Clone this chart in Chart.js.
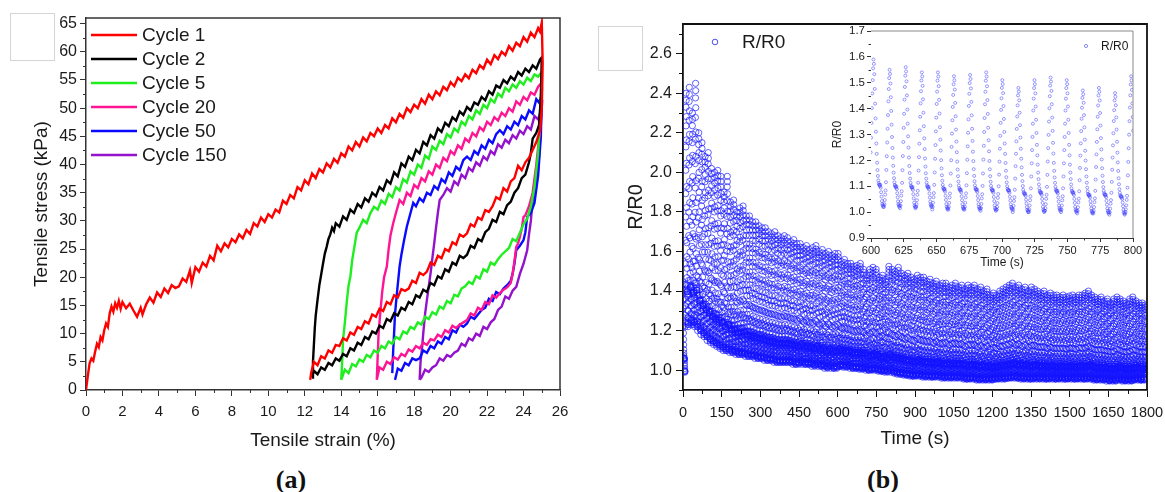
<!DOCTYPE html>
<html><head><meta charset="utf-8">
<script src="https://cdn.jsdelivr.net/npm/chart.js@4.4.1/dist/chart.umd.min.js"></script>
<style>
html,body{margin:0;padding:0;background:#fff;width:1165px;height:492px;overflow:hidden;position:relative;font-family:"Liberation Sans",Arial,sans-serif}
canvas{position:absolute}
#ca{left:0;top:0}
#cb{left:590px;top:0}
#ci{left:820px;top:20px}
.lbl{position:absolute;font-family:"Liberation Serif","Times New Roman",serif;font-weight:bold;font-size:26px;color:#111;transform:translate(-50%,-50%);white-space:nowrap}
.box{position:absolute;border:1px solid #d4d4d4}
</style></head><body>
<div class="box" style="left:10px;top:13px;width:43px;height:46px"></div>
<div class="box" style="left:598px;top:26px;width:43px;height:43px"></div>
<canvas id="ca" width="580" height="460"></canvas>
<canvas id="cb" width="590" height="460"></canvas>
<canvas id="ci" width="330" height="260"></canvas>
<div class="lbl" style="left:291px;top:480px">(a)</div>
<div class="lbl" style="left:883px;top:480px">(b)</div>
<script>
// ================= Panel (a): tensile cycles, [strain %, stress kPa] =================
const cycle1 = [[0,0],[0.1,2.5],[0.2,4.8],[0.3,5.6],[0.4,5.2],[0.5,6.8],[0.6,8.2],[0.7,7.6],[0.8,9.4],[0.9,8.8],[1.0,10.6],[1.1,11.8],[1.2,11.2],[1.3,13.6],[1.4,14.8],[1.5,13.9],[1.6,15.4],[1.7,14.6],[1.8,15.8],[1.9,14.4],[2.0,15.6],[2.2,14.5],[2.4,15.3],[2.6,14.1],[2.8,13.0],[3.0,14.6],[3.1,13.4],[3.3,15.2],[3.5,16.4],[3.7,15.5],[3.9,17.3],[4.1,16.5],[4.3,18.0],[4.5,17.2],[4.7,18.6],[4.9,18.1],[5.1,18.4],[5.3,19.8],[5.5,19.2],[5.7,21.2],[5.8,19.0],[6.0,21.8],[6.2,21.0],[6.4,22.6],[6.6,21.9],[6.8,23.8],[7.0,23.0],[7.2,25.6],[7.4,24.6],[7.6,26.0],[7.8,25.3],[8.0,26.8],[8.2,26.2],[8.4,27.6],[8.6,26.9],[8.8,28.4],[9.0,27.7],[9.2,29.6],[9.4,29.0],[9.6,30.6],[9.8,29.8],[10.0,31.2],[10.2,30.6],[10.4,32.0],[10.6,31.5],[10.8,33.6],[11.0,33.0],[11.2,34.6],[11.4,34.0],[11.6,36.0],[11.8,35.4],[12.0,37.2],[12.2,36.5],[12.4,38.4],[12.6,37.6],[12.8,39.2],[13.0,38.6],[13.2,40.2],[13.4,39.5],[13.6,41.0],[13.8,40.3],[14.0,42.0],[14.2,41.4],[14.4,43.2],[14.6,42.5],[14.8,44.0],[15.0,43.2],[15.2,44.8],[15.4,44.1],[15.6,45.6],[15.8,45.0],[16.0,46.4],[16.2,45.6],[16.4,47.0],[16.6,46.4],[16.8,48.2],[17.0,47.5],[17.2,49.0],[17.4,48.3],[17.6,50.0],[17.8,49.3],[18.0,50.6],[18.2,50.0],[18.4,51.6],[18.6,50.8],[18.8,52.4],[19.0,51.6],[19.2,53.0],[19.4,52.3],[19.6,53.8],[19.8,53.2],[20.0,54.6],[20.2,53.9],[20.4,55.4],[20.6,54.8],[20.8,56.0],[21.0,55.3],[21.2,56.8],[21.4,56.2],[21.6,57.6],[21.8,57.0],[22.0,58.6],[22.2,57.8],[22.4,59.4],[22.6,58.7],[22.8,60.0],[23.0,59.4],[23.2,61.0],[23.4,60.2],[23.6,61.6],[23.8,61.0],[24.0,62.6],[24.2,61.8],[24.4,63.4],[24.6,62.6],[24.8,64.2],[24.9,63.6],[25.0,65.2],
 [25.05,58],[25.0,50],[24.9,46],[24.7,44],[24.5,42.6],[24.3,41.2],[24.1,40.4],[23.9,39.0],[23.7,39.8],[23.5,37.6],[23.3,37.0],[23.1,35.2],[22.9,35.8],[22.7,33.8],[22.5,34.2],[22.3,32.6],[22.1,31.6],[21.9,31.9],[21.7,30.2],[21.5,30.6],[21.3,29.0],[21.1,29.4],[20.9,27.8],[20.7,27.2],[20.5,27.6],[20.3,25.8],[20.1,26.2],[19.9,24.6],[19.7,25.0],[19.5,23.4],[19.3,23.8],[19.1,22.2],[18.9,22.6],[18.7,21.0],[18.5,20.4],[18.3,20.8],[18.1,19.0],[17.9,19.4],[17.7,18.0],[17.5,17.6],[17.3,17.9],[17.1,16.4],[16.9,16.8],[16.7,15.2],[16.5,15.6],[16.3,14.0],[16.1,14.4],[15.9,13.0],[15.7,13.4],[15.5,11.8],[15.3,12.2],[15.1,10.8],[14.9,11.2],[14.7,9.8],[14.5,10.2],[14.3,8.8],[14.1,9.2],[13.9,7.8],[13.7,8.0],[13.5,6.6],[13.3,7.0],[13.1,5.6],[12.9,6.0],[12.7,4.4],[12.5,5.0],[12.35,3.0],[12.3,1.8]];
const cycle2 = [[12.4,2.2],[12.45,5],[12.5,8],[12.55,11],[12.6,13.2],[12.7,16],[12.8,18.6],[12.9,20.5],[13.0,22.4],[13.1,24.2],[13.2,25.4],[13.3,26.8],[13.4,27.6],[13.5,28.8],[13.6,28.2],[13.7,29.6],[13.9,29.0],[14.1,30.8],[14.3,30.2],[14.5,32.0],[14.7,31.4],[14.9,33.0],[15.1,32.4],[15.3,34.0],[15.5,33.4],[15.7,35.0],[15.9,34.4],[16.1,36.0],[16.3,35.4],[16.5,37.2],[16.7,36.6],[16.9,38.6],[17.1,37.9],[17.3,40.2],[17.5,39.6],[17.7,41.4],[17.9,40.8],[18.1,42.6],[18.3,42.0],[18.5,44.0],[18.7,43.4],[18.9,45.2],[19.1,44.6],[19.3,46.4],[19.5,45.8],[19.7,47.4],[19.9,46.8],[20.1,48.4],[20.3,47.8],[20.5,49.4],[20.7,48.8],[20.9,50.2],[21.1,49.6],[21.3,51.0],[21.5,50.6],[21.7,52.0],[21.9,51.4],[22.1,53.0],[22.3,52.4],[22.5,54.0],[22.7,53.6],[22.9,55.0],[23.1,54.4],[23.3,55.6],[23.5,55.0],[23.7,56.4],[23.9,55.8],[24.1,57.0],[24.3,56.4],[24.5,57.6],[24.7,57.0],[24.9,58.6],[25.0,59.0],
 [24.95,52],[24.85,47],[24.7,45.6],[24.5,44.6],[24.4,42.0],[24.3,40.4],[24.1,38.2],[23.9,37.6],[23.7,35.8],[23.5,35.0],[23.3,33.4],[23.1,32.8],[22.9,31.2],[22.7,31.6],[22.5,29.8],[22.3,30.2],[22.1,28.6],[21.9,28.0],[21.7,26.4],[21.5,26.8],[21.3,25.2],[21.1,25.6],[20.9,24.0],[20.7,23.4],[20.5,23.8],[20.3,22.2],[20.1,22.6],[19.9,21.0],[19.7,21.4],[19.5,19.8],[19.3,20.2],[19.1,18.6],[18.9,19.0],[18.7,17.4],[18.5,17.8],[18.3,16.4],[18.1,16.8],[17.9,15.2],[17.7,15.6],[17.5,14.2],[17.3,14.6],[17.1,13.2],[16.9,13.6],[16.7,12.2],[16.5,12.6],[16.3,11.0],[16.1,11.4],[15.9,10.0],[15.7,10.4],[15.5,9.0],[15.3,9.4],[15.1,8.0],[14.9,8.4],[14.7,7.0],[14.5,7.4],[14.3,6.0],[14.1,6.4],[13.9,5.2],[13.7,5.6],[13.5,4.4],[13.3,4.8],[13.1,3.6],[12.9,4.0],[12.7,2.8],[12.5,3.4],[12.4,2.2]];
const cycle5 = [[14.0,1.8],[14.05,5],[14.1,8.9],[14.2,12],[14.3,15.5],[14.4,18.5],[14.5,20.1],[14.6,23],[14.7,25],[14.85,27.9],[15.0,28.8],[15.2,30.2],[15.4,29.6],[15.6,31.4],[15.8,32.5],[16.0,32.0],[16.2,33.6],[16.4,33.0],[16.6,34.8],[16.8,34.2],[17.0,36.0],[17.2,35.4],[17.4,37.4],[17.6,36.8],[17.8,38.8],[18.0,38.2],[18.2,40.0],[18.4,39.4],[18.6,41.6],[18.8,41.0],[19.0,43.2],[19.2,42.6],[19.4,44.2],[19.6,43.6],[19.8,45.4],[20.0,44.8],[20.2,46.4],[20.4,45.8],[20.6,47.6],[20.8,47.0],[21.0,48.6],[21.2,48.0],[21.4,49.6],[21.6,49.0],[21.8,50.6],[22.0,50.0],[22.2,51.6],[22.4,51.0],[22.6,52.6],[22.8,52.0],[23.0,53.6],[23.2,53.0],[23.4,54.2],[23.6,53.6],[23.8,54.8],[24.0,54.2],[24.2,55.4],[24.4,54.8],[24.6,56.0],[24.8,55.6],[25.0,56.4],
 [24.9,48],[24.8,42],[24.6,36],[24.4,32.5],[24.2,30.4],[24.0,29.4],[23.8,27.9],[23.6,26.4],[23.4,26.8],[23.2,25.2],[23.0,24.6],[22.8,24.0],[22.6,23.2],[22.4,22.2],[22.2,22.6],[22.0,21.0],[21.8,21.4],[21.6,19.8],[21.4,20.2],[21.2,18.8],[21.0,19.2],[20.8,18.4],[20.6,18.0],[20.4,16.6],[20.2,16.9],[20.0,15.4],[19.8,15.8],[19.6,14.4],[19.4,14.8],[19.2,13.4],[19.0,13.8],[18.8,12.6],[18.6,13.0],[18.4,11.6],[18.2,12.0],[18.0,10.8],[17.8,11.2],[17.6,10.0],[17.4,10.4],[17.2,9.0],[17.0,9.4],[16.8,8.2],[16.6,8.6],[16.4,7.4],[16.2,7.8],[16.0,6.6],[15.8,7.0],[15.6,5.8],[15.4,6.2],[15.2,5.0],[15.0,5.4],[14.8,4.2],[14.6,4.6],[14.4,3.0],[14.2,3.6],[14.0,1.8]];
const cycle20 = [[15.95,1.8],[16.0,6],[16.05,10.1],[16.15,14],[16.25,17.5],[16.35,20],[16.5,21.9],[16.6,25],[16.7,27.4],[16.85,29.6],[17.0,31.4],[17.2,33.7],[17.4,33.0],[17.6,35.0],[17.8,34.4],[18.0,36.4],[18.2,35.8],[18.4,37.6],[18.6,37.0],[18.8,38.8],[19.0,38.2],[19.2,40.0],[19.4,39.4],[19.6,41.2],[19.8,40.6],[20.0,42.4],[20.2,41.8],[20.4,43.4],[20.6,42.8],[20.8,44.6],[21.0,44.0],[21.2,45.6],[21.4,45.0],[21.6,46.6],[21.8,46.0],[22.0,47.6],[22.2,47.0],[22.4,48.4],[22.6,47.8],[22.8,49.2],[23.0,48.6],[23.2,50.0],[23.4,49.4],[23.6,51.2],[23.8,50.6],[24.0,52.0],[24.2,51.4],[24.4,52.8],[24.6,52.4],[24.8,53.8],[25.0,54.5],
 [24.9,46],[24.7,40],[24.5,35],[24.3,32.6],[24.1,31.0],[24.0,30.7],[23.9,28.6],[23.8,27.2],[23.7,26.0],[23.6,25.4],[23.5,22.8],[23.4,20.6],[23.3,19.0],[23.1,18.2],[22.9,17.8],[22.7,17.2],[22.5,16.4],[22.3,16.8],[22.1,15.2],[21.9,15.6],[21.7,14.2],[21.5,14.6],[21.3,13.2],[21.1,13.6],[20.9,12.4],[20.7,12.0],[20.5,11.6],[20.3,11.0],[20.1,11.4],[19.9,10.2],[19.7,10.6],[19.5,9.4],[19.3,9.8],[19.1,8.8],[18.9,9.0],[18.7,8.0],[18.5,8.4],[18.3,7.4],[18.1,7.8],[17.9,6.8],[17.7,7.2],[17.5,6.0],[17.3,6.4],[17.1,5.4],[16.9,5.8],[16.7,4.6],[16.5,5.0],[16.3,3.6],[16.1,4.0],[15.95,1.8]];
const cycle50 = [[16.8,3.0],[16.85,7],[16.9,10.1],[16.95,13.5],[17.05,17],[17.2,21.9],[17.3,24],[17.45,26.6],[17.6,29.0],[17.8,31.4],[17.95,33.2],[18.1,32.6],[18.3,34.0],[18.5,33.4],[18.7,35.0],[18.9,34.6],[19.1,36.2],[19.3,35.6],[19.5,37.4],[19.7,36.8],[19.9,38.6],[20.1,38.0],[20.3,39.6],[20.5,39.0],[20.7,40.8],[20.9,41.4],[21.1,40.8],[21.3,42.4],[21.5,41.8],[21.7,43.4],[21.9,42.8],[22.1,44.4],[22.3,43.8],[22.5,45.4],[22.7,46.1],[22.9,45.4],[23.1,46.8],[23.3,46.2],[23.5,47.6],[23.7,47.0],[23.9,48.6],[24.1,48.0],[24.3,49.6],[24.5,49.0],[24.7,51.6],[24.85,51.0],[25.0,52.4],
 [24.95,45],[24.8,38],[24.6,33.2],[24.4,31.4],[24.2,30.7],[24.1,28.0],[24.0,26.6],[23.8,25.6],[23.6,24.8],[23.5,22.4],[23.4,20.6],[23.3,19.4],[23.1,18.6],[22.9,18.0],[22.7,17.0],[22.5,17.4],[22.3,15.8],[22.1,16.2],[21.9,14.6],[21.7,14.2],[21.5,13.4],[21.3,12.6],[21.1,13.0],[20.9,11.8],[20.7,11.2],[20.5,11.6],[20.3,10.2],[20.1,10.6],[19.9,9.0],[19.7,9.4],[19.5,8.2],[19.3,8.6],[19.1,7.4],[18.9,7.8],[18.7,6.6],[18.5,7.0],[18.3,5.6],[18.1,5.3],[17.9,5.6],[17.7,4.4],[17.5,4.8],[17.3,3.4],[17.1,3.8],[16.95,1.8]];
const cycle150 = [[18.3,1.8],[18.35,5],[18.45,8],[18.5,10.1],[18.6,13.5],[18.7,16],[18.8,18.4],[18.9,20.7],[19.0,23.4],[19.1,26.0],[19.2,28.8],[19.3,31.4],[19.4,33.7],[19.6,34.6],[19.8,35.8],[20.0,35.2],[20.2,37.0],[20.4,36.4],[20.6,38.2],[20.8,37.6],[21.0,39.4],[21.2,38.8],[21.4,40.4],[21.6,39.8],[21.8,41.4],[22.0,40.8],[22.2,42.4],[22.4,41.8],[22.6,43.6],[22.8,43.0],[23.0,44.4],[23.2,43.8],[23.4,45.2],[23.6,44.6],[23.8,46.0],[24.0,45.4],[24.2,46.8],[24.4,46.2],[24.6,48.6],[24.8,48.0],[25.0,50.0],
 [24.9,44],[24.8,39],[24.6,35.6],[24.5,33.7],[24.4,30.0],[24.3,27.6],[24.2,24.8],[24.0,22.4],[23.8,20.6],[23.6,18.3],[23.4,17.6],[23.2,16.2],[23.0,16.6],[22.8,14.8],[22.6,14.2],[22.4,12.6],[22.2,12.0],[22.0,10.8],[21.8,11.2],[21.6,9.6],[21.4,10.0],[21.2,8.8],[21.0,9.2],[20.8,7.8],[20.6,8.2],[20.4,7.0],[20.2,6.6],[20.0,5.9],[19.8,6.2],[19.6,5.2],[19.4,5.6],[19.2,4.4],[19.0,4.0],[18.8,3.2],[18.6,3.6],[18.4,2.2],[18.3,1.8]];
const cycleLabels = ['Cycle 1','Cycle 2','Cycle 5','Cycle 20','Cycle 50','Cycle 150'];
const cycleColors = ['#ff0000','#000000','#1fee1f','#ff1493','#0a0aff','#9412cc'];
const strainTicks = [0,2,4,6,8,10,12,14,16,18,20,22,24,26];
const strainMinor = [1,3,5,7,9,11,13,15,17,19,21,23,25];
const stressTicks = [0,5,10,15,20,25,30,35,40,45,50,55,60,65];
const stressMinor = [2.5,7.5,12.5,17.5,22.5,27.5,32.5,37.5,42.5,47.5,52.5,57.5,62.5];

// ================= Panel (b): R/R0 vs time =================
const timeTicks = [0,150,300,450,600,750,900,1050,1200,1350,1500,1650,1800];
const timeMinor = [75,225,375,525,675,825,975,1125,1275,1425,1575,1725];
const ratioTicks = [1.0,1.2,1.4,1.6,1.8,2.0,2.2,2.4,2.6];
const ratioMinor = [0.9,1.1,1.3,1.5,1.7,1.9,2.1,2.3,2.5,2.7];
const insetTimeTicks = [600,625,650,675,700,725,750,775,800];
const insetTimeMinor = [612.5,637.5,662.5,687.5,712.5,737.5,762.5,787.5];
const insetRatioTicks = [0.9,1.0,1.1,1.2,1.3,1.4,1.5,1.6,1.7];
const insetRatioMinor = [0.95,1.05,1.15,1.25,1.35,1.45,1.55,1.65];
const cyclePeriod = 12.29;        // s (16 cycles in ~197 s)
const firstTroughTime = -4.6;     // s
// one loading cycle as read from the inset: fraction of (peak - trough), sampled evenly over a period
const cycleShape = [0.00,0.02,0.05,0.09,0.12,0.18,0.27,0.37,0.47,0.57,0.67,0.77,0.86,0.94,1.00,0.97,0.90,0.80,0.70,0.60,0.51,0.43,0.36,0.30,0.25,0.21,0.18,0.16,0.15,0.15,0.14,0.15,0.13,0.10,0.07,0.04,0.02,0.01,0.00,0.01];
const mainPeaks = [1.45,2.40,2.43,2.30,2.45,2.20,2.15,2.08,2.10,2.02,2.00,2.01,1.98,1.90,1.98,1.85,1.86,1.80,1.82,1.83,
 1.78,1.78,1.75,1.75,1.73,1.72,1.72,1.70,1.69,1.70,1.68,1.67,1.68,1.67,1.65,1.66,1.64,1.64,1.62,1.63,
 1.61,1.62,1.63,1.60,1.61,1.59,1.60,1.58,1.59,1.59,1.55,1.56,1.54,1.54,1.525,1.53,1.54,1.51,1.48,1.51,
 1.52,1.51,1.47,1.48,1.46,1.525,1.51,1.50,1.52,1.49,1.48,1.49,1.47,1.46,1.48,1.47,1.47,1.45,1.46,1.44,
 1.45,1.43,1.44,1.44,1.42,1.43,1.44,1.42,1.43,1.41,1.43,1.42,1.43,1.41,1.42,1.40,1.41,1.38,1.39,1.38,
 1.40,1.41,1.42,1.43,1.44,1.42,1.43,1.41,1.42,1.40,1.42,1.41,1.40,1.39,1.40,1.38,1.39,1.38,1.38,1.37,
 1.38,1.37,1.375,1.38,1.37,1.38,1.38,1.39,1.40,1.38,1.37,1.36,1.37,1.35,1.36,1.34,1.36,1.37,1.36,1.35,
 1.34,1.36,1.37,1.35,1.34,1.34,1.33];
const mainTroughs = [0.99,1.22,1.24,1.23,1.22,1.20,1.18,1.17,1.15,1.14,1.13,1.12,1.11,1.10,1.10,1.09,1.09,1.08,1.08,1.08,
 1.07,1.07,1.07,1.06,1.06,1.06,1.05,1.05,1.05,1.04,1.04,1.04,1.04,1.04,1.04,1.03,1.03,1.04,1.03,1.03,
 1.03,1.02,1.03,1.02,1.02,1.01,1.02,1.01,1.01,1.02,1.02,1.015,1.02,1.01,1.01,1.01,1.005,1.01,1.0,1.0,
 1.005,1.0,0.995,0.995,0.99,1.0,0.99,0.985,0.98,0.98,0.975,0.975,0.97,0.97,0.975,0.97,0.965,0.97,0.965,0.965,
 0.97,0.965,0.96,0.965,0.96,0.965,0.96,0.965,0.96,0.955,0.955,0.96,0.955,0.95,0.955,0.95,0.955,0.95,0.955,0.955,
 0.96,0.955,0.96,0.96,0.965,0.96,0.96,0.955,0.96,0.955,0.955,0.96,0.955,0.96,0.955,0.955,0.96,0.955,0.955,0.96,
 0.955,0.955,0.96,0.955,0.955,0.96,0.955,0.955,0.96,0.955,0.95,0.955,0.95,0.955,0.945,0.95,0.945,0.955,0.95,0.945,
 0.95,0.945,0.95,0.955,0.95,0.95,0.955];

// ---------- build point lists from the read values ----------
const ratioPoints = [];
mainPeaks.forEach((pk, k) => {
  const tr = mainTroughs[k];
  cycleShape.forEach((f, j) => {
    const t = firstTroughTime + (k + j / cycleShape.length) * cyclePeriod;
    if (t < 0 || t > 1800) return;
    ratioPoints.push({x: t, y: tr + f * (pk - tr)});
  });
});
const insetPoints = ratioPoints.filter(p => p.x >= 598 && p.x <= 802);
const toXY = arr => arr.map(([x, y]) => ({x, y}));

// ---------- helpers ----------
const FF = '"Liberation Sans", Arial, sans-serif';
function scaleCfg(o) {
  return {
    type: 'linear', position: o.pos, min: o.min, max: o.max,
    afterBuildTicks: s => { s.ticks = o.ticks.map(v => ({value: v})); },
    afterFit: s => { if (o.pos === 'left') s.width = o.size; else s.height = o.size; },
    ticks: {font: {family: FF, size: o.fs}, color: '#1a1a1a', padding: o.pad, autoSkip: false, maxRotation: 0, minRotation: 0,
            callback: o.fmt},
    grid: {display: true, drawOnChartArea: false, drawTicks: true, tickLength: o.tl, color: o.color, lineWidth: 1},
    border: {display: true, color: o.color, width: o.bw},
    title: {display: true, text: o.title, font: {family: FF, size: o.tfs}, color: '#1a1a1a', padding: o.tpad}
  };
}
const decor = {
  id: 'decor',
  beforeDatasetsDraw(chart, args, opts) {
    if (!opts.fill) return;
    const a = chart.chartArea, ctx = chart.ctx;
    ctx.save(); ctx.fillStyle = opts.fill; ctx.fillRect(a.left, a.top, a.right - a.left, a.bottom - a.top); ctx.restore();
  },
  afterDraw(chart, args, opts) {
    const {ctx, chartArea: a, scales} = chart;
    ctx.save();
    ctx.strokeStyle = opts.frameColor; ctx.lineWidth = opts.frameWidth;
    ctx.beginPath(); ctx.moveTo(a.left, a.top); ctx.lineTo(a.right, a.top); ctx.lineTo(a.right, a.bottom); ctx.stroke();
    ctx.strokeStyle = opts.tickColor; ctx.lineWidth = 1;
    const L = opts.minorLen;
    (opts.xMinor || []).forEach(v => { const x = Math.round(scales.x.getPixelForValue(v)) + 0.5;
      ctx.beginPath(); ctx.moveTo(x, a.bottom); ctx.lineTo(x, a.bottom + L); ctx.stroke(); });
    (opts.yMinor || []).forEach(v => { const y = Math.round(scales.y.getPixelForValue(v)) + 0.5;
      ctx.beginPath(); ctx.moveTo(a.left - L, y); ctx.lineTo(a.left, y); ctx.stroke(); });
    const lg = opts.legend;
    if (lg) {
      ctx.font = lg.font; ctx.fillStyle = '#1a1a1a'; ctx.textBaseline = 'middle'; ctx.textAlign = 'left';
      if (lg.type === 'line') {
        chart.data.datasets.forEach((d, i) => {
          const y = lg.ys[i];
          ctx.strokeStyle = d.borderColor; ctx.lineWidth = 2.5;
          ctx.beginPath(); ctx.moveTo(lg.x1, y); ctx.lineTo(lg.x2, y); ctx.stroke();
          ctx.fillText(d.label, lg.tx, y + 1);
        });
      } else {
        const d = chart.data.datasets[0];
        ctx.strokeStyle = d.pointBorderColor; ctx.lineWidth = lg.lw;
        ctx.beginPath(); ctx.arc(lg.x, lg.y, lg.r, 0, Math.PI * 2); ctx.stroke();
        ctx.fillText(d.label, lg.tx, lg.y + 1);
      }
    }
    ctx.restore();
  }
};
const baseOpts = {responsive: false, animation: false, devicePixelRatio: 1, events: []};

// ---------- Panel (a) ----------
const cycles = [cycle1, cycle2, cycle5, cycle20, cycle50, cycle150];
new Chart(document.getElementById('ca'), {
  type: 'scatter',
  data: {datasets: cycles.map((c, i) => ({
    label: cycleLabels[i], data: toXY(c), showLine: true, borderColor: cycleColors[i], backgroundColor: cycleColors[i],
    borderWidth: 2.4, pointRadius: 0, tension: 0, fill: false
  }))},
  options: Object.assign({}, baseOpts, {
    layout: {padding: {left: 0, top: 18, right: 20, bottom: 0}},
    scales: {
      x: scaleCfg({pos: 'bottom', min: 0, max: 26, ticks: strainTicks, size: 70, fs: 15, pad: 7, tl: 6, color: '#333', bw: 1.5,
        fmt: v => String(v), title: 'Tensile strain (%)', tfs: 19, tpad: {top: 0, bottom: 8}}),
      y: scaleCfg({pos: 'left', min: 0, max: 66, ticks: stressTicks, size: 86, fs: 16, pad: 3, tl: 6, color: '#333', bw: 1.5,
        fmt: v => String(v), title: 'Tensile stress (kPa)', tfs: 19, tpad: {top: 30.6, bottom: 0}})
    },
    plugins: {legend: {display: false}, tooltip: {enabled: false},
      decor: {frameColor: '#333', frameWidth: 1.5, tickColor: '#333', minorLen: 3, xMinor: strainMinor, yMinor: stressMinor,
        legend: {type: 'line', x1: 91, x2: 137, tx: 142, ys: [35, 59, 83, 107, 131, 155], font: '19px ' + FF}}}
  }),
  plugins: [decor]
});

// ---------- Panel (b) ----------
new Chart(document.getElementById('cb'), {
  type: 'scatter',
  data: {datasets: [{label: 'R/R0', data: ratioPoints, pointRadius: 3.1, pointBorderWidth: 0.7,
    pointBorderColor: 'rgba(20,20,255,0.95)', pointBackgroundColor: 'rgba(0,0,0,0)', showLine: false}]},
  options: Object.assign({}, baseOpts, {
    layout: {padding: {left: 0, top: 24, right: 33, bottom: 0}},
    scales: {
      x: scaleCfg({pos: 'bottom', min: 0, max: 1800, ticks: timeTicks, size: 70, fs: 14.5, pad: 7, tl: 7, color: '#111', bw: 1.8,
        fmt: v => String(v), title: 'Time (s)', tfs: 19, tpad: {top: 0, bottom: 10}}),
      y: scaleCfg({pos: 'left', min: 0.9, max: 2.75, ticks: ratioTicks, size: 93, fs: 16, pad: 4, tl: 7, color: '#111', bw: 1.8,
        fmt: v => v.toFixed(1), title: 'R/R0', tfs: 20, tpad: {top: 34, bottom: 0}})
    },
    plugins: {legend: {display: false}, tooltip: {enabled: false},
      decor: {frameColor: '#111', frameWidth: 1.8, tickColor: '#111', minorLen: 4, xMinor: timeMinor, yMinor: ratioMinor,
        legend: {type: 'point', x: 125, y: 42, r: 2.8, lw: 0.8, tx: 152, font: '19px ' + FF}}}
  }),
  plugins: [decor]
});

// ---------- Inset ----------
new Chart(document.getElementById('ci'), {
  type: 'scatter',
  data: {datasets: [{label: 'R/R0', data: insetPoints, pointRadius: 1.5, pointBorderWidth: 0.6,
    pointBorderColor: 'rgba(60,60,255,0.85)', pointBackgroundColor: 'rgba(0,0,0,0)', showLine: false}]},
  options: Object.assign({}, baseOpts, {
    layout: {padding: {left: 0, top: 11, right: 17, bottom: 0}},
    scales: {
      x: scaleCfg({pos: 'bottom', min: 600, max: 800, ticks: insetTimeTicks, size: 42, fs: 11, pad: 2, tl: 4, color: '#333', bw: 1,
        fmt: v => String(v), title: 'Time (s)', tfs: 12, tpad: {top: 0, bottom: 9.8}}),
      y: scaleCfg({pos: 'left', min: 0.9, max: 1.7, ticks: insetRatioTicks, size: 51, fs: 11.5, pad: 2, tl: 4, color: '#333', bw: 1,
        fmt: v => v.toFixed(1), title: 'R/R0', tfs: 12, tpad: {top: 10.8, bottom: 0}})
    },
    plugins: {legend: {display: false}, tooltip: {enabled: false},
      decor: {fill: '#ffffff', frameColor: '#8a8a8a', frameWidth: 1, tickColor: '#333', minorLen: 2.5,
        xMinor: insetTimeMinor, yMinor: insetRatioMinor,
        legend: {type: 'point', x: 266, y: 26, r: 1.6, lw: 0.7, tx: 281, font: '12px ' + FF}}}
  }),
  plugins: [decor]
});
</script>
</body></html>
